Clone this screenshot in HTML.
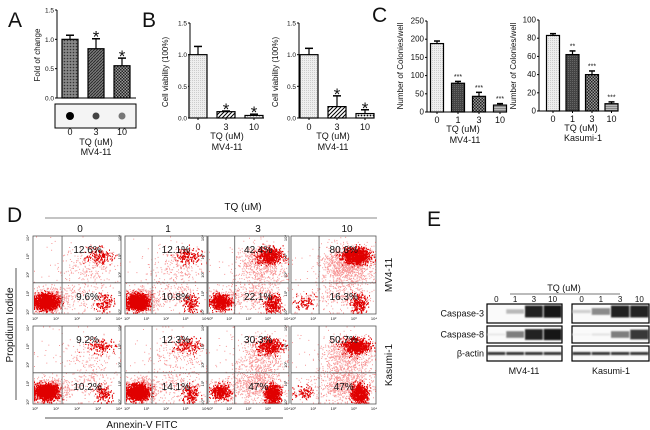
<!DOCTYPE html>
<html><head><meta charset="utf-8"><style>
html,body{margin:0;padding:0;background:#fff;}
svg{display:block;font-family:"Liberation Sans",Arial,sans-serif;}
</style></head><body>
<svg id="fig" width="650" height="430" viewBox="0 0 650 430" xmlns="http://www.w3.org/2000/svg">
<defs>
<pattern id="pDots" width="3" height="3" patternUnits="userSpaceOnUse"><rect width="3" height="3" fill="#888"/><circle cx="1.5" cy="1.5" r="0.8" fill="#333"/></pattern>
<pattern id="pDots2" width="3" height="3" patternUnits="userSpaceOnUse"><rect width="3" height="3" fill="#777"/><path d="M0 3L3 0" stroke="#222" stroke-width="0.8"/></pattern>
<pattern id="pCheck" width="3" height="3" patternUnits="userSpaceOnUse"><rect width="3" height="3" fill="#999"/><rect width="1.5" height="1.5" fill="#222"/><rect x="1.5" y="1.5" width="1.5" height="1.5" fill="#222"/></pattern>
<pattern id="pLight" width="2" height="2" patternUnits="userSpaceOnUse"><rect width="2" height="2" fill="#eee"/><rect width="1" height="1" fill="#ccc"/></pattern>
<pattern id="pHatch" width="4" height="4" patternUnits="userSpaceOnUse"><rect width="4" height="4" fill="#fff"/><path d="M0 4L4 0M-1 1L1 -1M3 5L5 3" stroke="#000" stroke-width="1"/></pattern>
<pattern id="pDark" width="2" height="2" patternUnits="userSpaceOnUse"><rect width="2" height="2" fill="#444"/><rect width="1" height="1" fill="#666"/></pattern>
<pattern id="pHLines" width="3" height="2" patternUnits="userSpaceOnUse"><rect width="3" height="2" fill="#bbb"/><rect width="3" height="1" fill="#888"/></pattern>
<pattern id="pSmallDots" width="3" height="3" patternUnits="userSpaceOnUse"><rect width="3" height="3" fill="#fff"/><circle cx="1.5" cy="1.5" r="0.9" fill="#000"/></pattern>
<filter id="blur" x="-10%" y="-50%" width="120%" height="200%"><feGaussianBlur stdDeviation="0.8"/></filter>
</defs>
<g id="layer"></g>
</svg>
<script>
// ---- Panel A data
const aCats=["0","3","10"];
const aVals=[1.0,0.84,0.55];
const aErr=[0.07,0.17,0.13];
const aTicks=[0,0.5,1.0,1.5];
// ---- Panel B data
const bCats=["0","3","10"];
const b1Vals=[1.0,0.1,0.04];
const b1Err=[0.13,0.01,0.02];
const b2Vals=[1.0,0.18,0.07];
const b2Err=[0.1,0.17,0.06];
const bTicks=[0,0.5,1.0,1.5];
// ---- Panel C data
const cCats=["0","1","3","10"];
const c1Vals=[188,79,43,19];
const c1Err=[7,5,11,4];
const c1Sig=["","***","***","***"];
const c1Ticks=[0,50,100,150,200,250];
const c2Vals=[83,62,40,8];
const c2Err=[2,4,4,2];
const c2Sig=["","**","***","***"];
const c2Ticks=[0,20,40,60,80,100];
// ---- Panel D data
const dDoses=["0","1","3","10"];
const dUpper=[["12.6%","12.1%","42.4%","80.6%"],["9.2%","12.3%","30.3%","50.7%"]];
const dLower=[["9.6%","10.8%","22.1%","16.3%"],["10.2%","14.1%","47%","47%"]];
const dUR=[[0.126,0.121,0.424,0.806],[0.092,0.123,0.303,0.507]];
const dLR=[[0.096,0.108,0.221,0.163],[0.102,0.141,0.47,0.47]];
// ---- Panel E data
const eLanes=["0","1","3","10"];
const eCasp3=[[0,0.3,0.95,1.0],[0.2,0.5,0.95,0.95]];
const eCasp8=[[0.1,0.55,0.95,1.0],[0.05,0.12,0.55,0.85]];
const eActin=[[0.85,0.85,0.85,0.85],[0.85,0.85,0.85,0.85]];

const NS="http://www.w3.org/2000/svg";
const L=document.getElementById('layer');
function mk(tag,at,parent){const e=document.createElementNS(NS,tag);for(const k in at)e.setAttribute(k,at[k]);(parent||L).appendChild(e);return e;}
function txt(s,x,y,size,anchor,parent,rot){const e=mk('text',{x:x,y:y,'font-size':size,'text-anchor':anchor||'middle',fill:'#111'},parent);if(rot)e.setAttribute('transform','rotate('+rot+' '+x+' '+y+')');e.textContent=s;return e;}

function barChart(o){
  const g=mk('g',{});
  
  
  const y=v=>o.y0-(v-o.min)/(o.max-o.min)*(o.y0-o.y1);
  const x=i=>o.x0+o.pad+i*o.step;
  mk('line',{x1:o.x0,y1:o.y0,x2:o.x0,y2:o.y1,stroke:'#000','stroke-width':1},g);
  mk('line',{x1:o.x0,y1:o.y0,x2:o.xEnd,y2:o.y0,stroke:'#000','stroke-width':1},g);
  o.ticks.forEach(t=>{mk('line',{x1:o.x0-2,x2:o.x0,y1:y(t),y2:y(t),stroke:'#000'},g);const tl=txt(o.fmt(t),o.x0-3,y(t)+2.5,o.tfs,'end',g);});
  o.vals.forEach((v,i)=>{
    const cx=x(i);
    const r=mk('rect',{x:cx-o.bw/2,y:y(v),width:o.bw,height:o.y0-y(v),fill:o.fills[i],stroke:'#000','stroke-width':1.2},g);
    
    
    const ey=y(v+o.err[i]);
    mk('line',{x1:cx,x2:cx,y1:y(v),y2:ey,stroke:'#000','stroke-width':1.2},g);
    mk('line',{x1:cx-o.cap,x2:cx+o.cap,y1:ey,y2:ey,stroke:'#000','stroke-width':1.5},g);
    if(o.sig&&o.sig[i]){
      if(o.sig[i]=="*"){txt("*",cx,ey+4,o.sigfs,'middle',g);}
      else txt(o.sig[i],cx,ey-2.5,o.sigfs,'middle',g);
    }
    if(o.ticklabels){mk('line',{x1:cx,x2:cx,y1:o.y0,y2:o.y0+2,stroke:'#000'},g);const xl=txt(o.cats[i],cx,o.xly,o.xfs,'middle',g);}
  });
  const yt=txt(o.ytitle,o.ytx,o.yty,o.ytfs,'middle',g,-90);
  
  return g;
}
const f1=t=>t.toFixed(1), f0=t=>String(t);

// Panel labels
[["A",8,27],["B",142,27],["C",372,22],["D",7,222],["E",427,226]].forEach(p=>{const t=txt(p[0],p[1],p[2],21,'start');});

// A
barChart({name:'panel-a-chart',x0:57,xEnd:136,y0:98,y1:10,min:0,max:1.5,pad:13,step:26,bw:16,cap:4,vals:aVals,err:aErr,cats:aCats,fills:['url(#pDots)','url(#pDots2)','url(#pCheck)'],ticks:aTicks,fmt:f1,tfs:6.5,sig:["","*","*"],sigfs:17,ticklabels:false,ytitle:'Fold of change',ytx:40,yty:55,ytfs:8});
const dotBox=mk('rect',{x:55,y:104,width:81,height:24,fill:'#f4f4f4',stroke:'#000','stroke-width':1});

[["#000",4],["#444",3.5],["#777",3.5]].forEach((d,i)=>mk('circle',{cx:70+i*26,cy:116,r:d[1],fill:d[0]}));
aCats.forEach((c,i)=>txt(c,70+i*26,135,9));
txt('TQ (uM)',96,145,9);txt('MV4-11',96,155,9);

// B
barChart({name:'panel-b-chart-1',x0:190,xEnd:264,y0:118,y1:23,min:0,max:1.5,pad:8,step:28,bw:18,cap:4,vals:b1Vals,err:b1Err,cats:bCats,fills:['url(#pLight)','url(#pHatch)','url(#pSmallDots)'],ticks:bTicks,fmt:f1,tfs:6.5,sig:["","*","*"],sigfs:17,ticklabels:true,xly:130,xfs:9,ytitle:'Cell viability (100%)',ytx:168,yty:72,ytfs:8});
txt('TQ (uM)',227,139,9);txt('MV4-11',227,150,9);
barChart({name:'panel-b-chart-2',x0:299,xEnd:372,y0:118,y1:23,min:0,max:1.5,pad:10,step:28,bw:18,cap:4,vals:b2Vals,err:b2Err,cats:bCats,fills:['url(#pLight)','url(#pHatch)','url(#pSmallDots)'],ticks:bTicks,fmt:f1,tfs:6.5,sig:["","*","*"],sigfs:17,ticklabels:true,xly:130,xfs:9,ytitle:'Cell viability (100%)',ytx:278,yty:72,ytfs:8});
txt('TQ (uM)',333,139,9);txt('MV4-11',333,150,9);

// C
barChart({name:'panel-c-chart-mv4-11',x0:427,xEnd:505,y0:112,y1:21,min:0,max:250,pad:10,step:21,bw:13,cap:3,vals:c1Vals,err:c1Err,cats:cCats,fills:['url(#pLight)','url(#pDark)','url(#pCheck)','url(#pHLines)'],ticks:c1Ticks,fmt:f0,tfs:8,sig:c1Sig,sigfs:7,ticklabels:true,xly:123,xfs:9,ytitle:'Number of Colonies/well',ytx:403,yty:66,ytfs:8});
txt('TQ (uM)',463,132,9);txt('MV4-11',465,143,9);
barChart({name:'panel-c-chart-kasumi-1',x0:539,xEnd:618,y0:111,y1:20,min:0,max:100,pad:14,step:19.5,bw:13,cap:3,vals:c2Vals,err:c2Err,cats:cCats,fills:['url(#pLight)','url(#pDark)','url(#pCheck)','url(#pHLines)'],ticks:c2Ticks,fmt:f0,tfs:8,sig:c2Sig,sigfs:7,ticklabels:true,xly:122,xfs:9,ytitle:'Number of Colonies/well',ytx:516,yty:66,ytfs:8});
txt('TQ (uM)',581,131,9);txt('Kasumi-1',583,141,9);

// D
txt('TQ (uM)',243,210,10);
mk('line',{x1:45,x2:377,y1:218,y2:218,stroke:'#888'});
const colX=[33,125,208,291], colW=[88,82,81,85], rowY=[236,326], rowH=78;
const dc=[80,168,258,347];
dDoses.forEach((d,i)=>txt(d,dc[i],232,10));
// deterministic texture generator (seeded) for scatter cloud appearance
let seed=7;function rnd(){seed=(seed*16807)%2147483647;return seed/2147483647;}
function gauss(){return (rnd()+rnd()+rnd()+rnd()-2)/1.15;}
for(let r=0;r<2;r++)for(let c=0;c<4;c++){
  const x0=colX[c],y0=rowY[r],w=colW[c],h=rowH;
  const g=mk('g',{});
  
  
  mk('rect',{x:x0,y:y0,width:w,height:h,fill:'#fff',stroke:'#555','stroke-width':0.8},g);
  const vx=x0+w*0.33, hy=y0+h*0.6;
  const N=2600;
  const ur=dUR[r][c], lr=dLR[r][c], ll=Math.max(0.05,1-ur-lr-0.03);
  let pts='',core='';
  function add(n,cx,cy,sx,sy,isCore){for(let k=0;k<n;k++){let px=cx+gauss()*sx, py=cy+gauss()*sy;px=Math.max(x0+1,Math.min(x0+w-1,px));py=Math.max(y0+1,Math.min(y0+h-1,py));const s='M'+px.toFixed(1)+' '+py.toFixed(1)+'h1';if(isCore)core+=s;else pts+=s;}}
  add(Math.round(N*ll*0.7),x0+w*0.15,y0+h*0.85,w*0.13,h*0.1,true);
  add(Math.round(N*ll*0.3),x0+w*0.2,y0+h*0.82,w*0.2,h*0.15,false);
  add(Math.round(N*ur*0.5),x0+w*0.76,y0+h*0.26,w*0.16,h*0.1,true);
  add(Math.round(N*ur*0.5),x0+w*0.66,y0+h*0.38,w*0.3,h*0.25,false);
  add(Math.round(N*lr*0.5),x0+w*0.8,y0+h*0.87,w*0.1,h*0.12,true);
  add(Math.round(N*lr*0.5),x0+w*0.62,y0+h*0.76,w*0.3,h*0.2,false);
  add(120,x0+w*0.5,y0+h*0.55,w*0.5,h*0.5,false);
  mk('path',{d:pts,stroke:'#f03030','stroke-width':1,fill:'none',opacity:0.5},g);
  mk('path',{d:core,stroke:'#e00000','stroke-width':1.3,fill:'none'},g);
  mk('line',{x1:vx,x2:vx,y1:y0,y2:y0+h,stroke:'#555','stroke-width':0.8},g);
  mk('line',{x1:x0,x2:x0+w,y1:hy,y2:hy,stroke:'#555','stroke-width':0.8},g);
  const u=txt(dUpper[r][c],x0+w*0.62,y0+h*0.22,10,'middle',g);
  const lo=txt(dLower[r][c],x0+w*0.62,y0+h*0.82,10,'middle',g);
  ["10⁰","10¹","10²","10³","10⁴"].forEach((s,k)=>{txt(s,x0+2+k*(w-4)/4,y0+h+6,4,'middle',g);});
  ["10⁰","10¹","10²","10³","10⁴"].forEach((s,k)=>{txt(s,x0-4,y0+h-2-k*(h-4)/4,4,'middle',g,-90);});
}
txt('MV4-11',392,275,10,'middle',null,-90);
txt('Kasumi-1',392,365,10,'middle',null,-90);
txt('Propidium Iodide',13,325,10,'middle',null,-90);
mk('line',{x1:16,x2:16,y1:268,y2:400,stroke:'#555'});
mk('line',{x1:45,x2:283,y1:418,y2:418,stroke:'#555'});
txt('Annexin-V FITC',142,428,10);

// E
txt('TQ (uM)',564,291,9);
mk('line',{x1:510,x2:620,y1:294,y2:294,stroke:'#777'});
const boxes=[[487,562],[572,649]];
const rows=[["Caspase-3",304,19,eCasp3],["Caspase-8",326,17,eCasp8],["β-actin",346,15,eActin]];
boxes.forEach((b,bi)=>{
  const lw=(b[1]-b[0])/4;
  eLanes.forEach((l,i)=>txt(l,b[0]+lw*(i+0.5),302,8));
  rows.forEach(rw=>{
    const g=mk('g',{});
    
    
    mk('rect',{x:b[0],y:rw[1],width:b[1]-b[0],height:rw[2],fill:'#fafafa',stroke:'#000','stroke-width':1.2},g);
    const bg=mk('g',{filter:'url(#blur)'},g);
    rw[3][bi].forEach((v,i)=>{
      if(v<=0)return;
      const bh=rw[0]==="β-actin"?3:Math.max(2,rw[2]*0.6*v+1);
      const sh=Math.round(255*(1-v*0.92));
      mk('rect',{x:b[0]+lw*i+0.5,y:rw[1]+rw[2]/2-bh/2-(rw[0]==="Caspase-3"?2:0),width:lw-1,height:bh,fill:'rgb('+sh+','+sh+','+sh+')'},bg);
    });
  });
});
rows.forEach(rw=>txt(rw[0],484,rw[1]+rw[2]/2+3,9,'end'));
txt('MV4-11',524,374,9);txt('Kasumi-1',611,374,9);
</script>
</body></html>
